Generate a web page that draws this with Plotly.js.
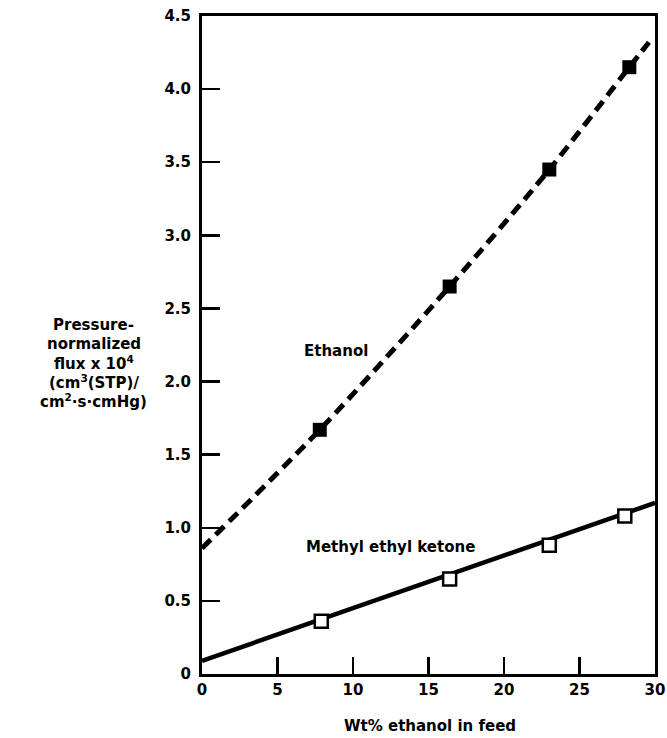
<!DOCTYPE html>
<html>
<head>
<meta charset="utf-8">
<script src="https://cdn.plot.ly/plotly-3.0.1.min.js"></script>
<style>html,body{margin:0;padding:0;background:#fff}#chart{width:667px;height:738px}</style>
</head>
<body>
<div id="chart"></div>
<script>
// Data
const ethanolX = [7.8, 16.4, 23.0, 28.3];
const ethanolY = [1.67, 2.65, 3.45, 4.15];
const ethanolCurveX = [0, 7.8, 16.4, 23.0, 28.3, 29.6];
const ethanolCurveY = [0.86, 1.67, 2.65, 3.45, 4.15, 4.32];
const mekX = [7.9, 16.4, 23.0, 28.0];
const mekY = [0.36, 0.65, 0.88, 1.08];
const mekFitX = [0, 30];
const mekFitY = [0.09, 1.17];
const xTickVals = [0, 5, 10, 15, 20, 25, 30];
const xTickText = ['0', '5', '10', '15', '20', '25', '30'];
const yTickVals = [0, 0.5, 1.0, 1.5, 2.0, 2.5, 3.0, 3.5, 4.0, 4.5];
const yTickText = ['0', '0.5', '1.0', '1.5', '2.0', '2.5', '3.0', '3.5', '4.0', '4.5'];
const yTitleLines = ['Pressure-', 'normalized', 'flux x 10<sup>4</sup>', '(cm<sup>3</sup>(STP)/', 'cm<sup>2</sup>·s·cmHg)'];
const xTitle = 'Wt% ethanol in feed';

const F = 'DejaVu Sans, Liberation Sans, sans-serif';
const traces = [
  {x: ethanolCurveX, y: ethanolCurveY, mode: 'lines', line: {color: '#000', width: 5, dash: '12px,7px', shape: 'spline', smoothing: 0.8}, hoverinfo: 'skip'},
  {x: mekFitX, y: mekFitY, mode: 'lines', line: {color: '#000', width: 4.5}, hoverinfo: 'skip'},
  {x: ethanolX, y: ethanolY, mode: 'markers', marker: {symbol: 'square', size: 14, color: '#000'}},
  {x: mekX, y: mekY, mode: 'markers', marker: {symbol: 'square', size: 13, color: '#fff', line: {color: '#000', width: 2.5}}}
];
const annotations = yTitleLines.map((t, i) => ({
  xref: 'paper', yref: 'y', x: -0.239, y: 2.13, yshift: (2 - i) * 19,
  xanchor: 'center', yanchor: 'middle', showarrow: false, text: t,
  font: {family: F, size: 15, weight: 'bold'}
}));
annotations.push(
  {xref: 'paper', yref: 'paper', x: 0.503, y: 0, yshift: -52, xanchor: 'center', yanchor: 'middle', showarrow: false,
   text: xTitle, font: {family: F, size: 15, weight: 'bold'}},
  {xref: 'x', yref: 'y', x: 8.9, y: 2.21, xanchor: 'center', yanchor: 'middle', showarrow: false,
   text: 'Ethanol', font: {family: F, size: 15, weight: 'bold'}},
  {xref: 'x', yref: 'y', x: 12.5, y: 0.87, xanchor: 'center', yanchor: 'middle', showarrow: false,
   text: 'Methyl ethyl ketone', font: {family: F, size: 15, weight: 'bold'}}
);
const layout = {
  width: 667, height: 738,
  margin: {l: 202, r: 12, t: 16, b: 64},
  paper_bgcolor: '#fff', plot_bgcolor: '#fff',
  showlegend: false,
  font: {family: F, size: 15, color: '#000', weight: 'bold'},
  xaxis: {
    range: [0, 30], tickvals: xTickVals, ticktext: xTickText,
    ticks: 'inside', ticklen: 17, tickwidth: 2.5, tickcolor: '#000',
    showline: true, linewidth: 3, linecolor: '#000', mirror: true,
    showgrid: false, zeroline: false,
    tickfont: {family: F, size: 15, weight: 'bold'}
  },
  yaxis: {
    range: [0, 4.5], tickvals: yTickVals, ticktext: yTickText,
    ticks: 'inside', ticklen: 18, tickwidth: 2.5, tickcolor: '#000',
    showline: true, linewidth: 3, linecolor: '#000', mirror: true,
    showgrid: false, zeroline: false, ticklabelstandoff: 5,
    tickfont: {family: F, size: 15, weight: 'bold'}
  },
  annotations: annotations
};
Plotly.newPlot('chart', traces, layout, {displayModeBar: false, staticPlot: true});
</script>
</body>
</html>
